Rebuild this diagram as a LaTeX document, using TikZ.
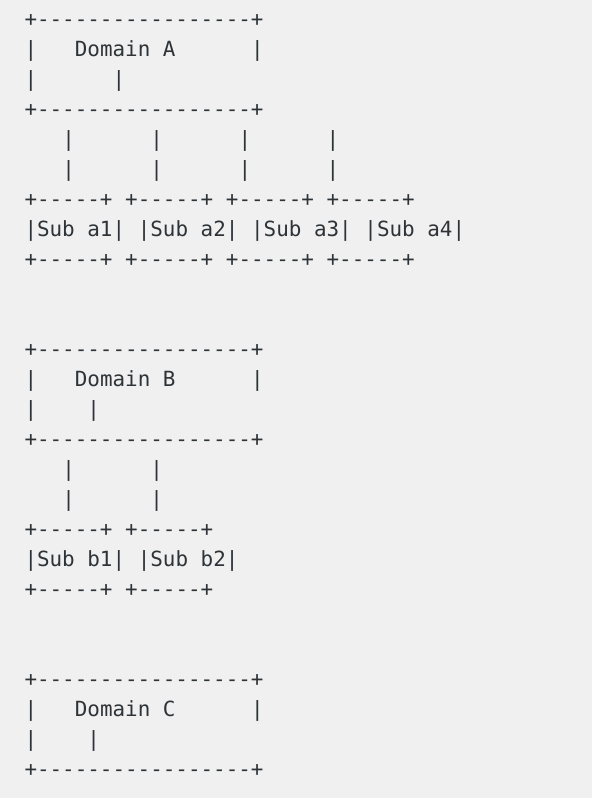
\documentclass[tikz,border=0pt]{standalone}
\usepackage{fontspec}
\setmonofont{DejaVu Sans Mono}
\definecolor{bgc}{HTML}{EFF0EF}
\definecolor{txc}{HTML}{2E3338}
\tikzset{
  asc/.style={anchor=base west, inner sep=0pt, outer sep=0pt, text=txc,
    font=\ttfamily\fontsize{20.9}{30}\selectfont},
}
\begin{document}
\begin{tikzpicture}
\fill[bgc] (0pt,0pt) rectangle (592pt,-798pt);
\useasboundingbox (0pt,0pt) rectangle (592pt,-798pt);
\begin{scope}[shift={(24.5pt,-26pt)}, x=12.59pt, y=-30pt]
% Domain A
\node[asc] (a0) at (0,0) {+-----------------+};
\node[asc] (a1l) at (0,1) {|};
\node[asc] (a1t) at (4,1) {Domain A};
\node[asc] (a1r) at (18,1) {|};
\node[asc] (a2l) at (0,2) {|};
\node[asc] (a2m) at (7,2) {|};
\node[asc] (a3) at (0,3) {+-----------------+};
\foreach \c [count=\i] in {3,10,17,24} {
  \node[asc] (a4p\i) at (\c,4) {|};
  \node[asc] (a5p\i) at (\c,5) {|};
}
\foreach \c [count=\i] in {0,8,16,24} {
  \node[asc] (a6b\i) at (\c,6) {+-----+};
  \node[asc] (a8b\i) at (\c,8) {+-----+};
}
\foreach \c [count=\i] in {0,9,18,27} {
  \node[asc] (a7s\i) at (\c,7) {|Sub a\i|};
}
% Domain B
\node[asc] (b0) at (0,11) {+-----------------+};
\node[asc] (b1l) at (0,12) {|};
\node[asc] (b1t) at (4,12) {Domain B};
\node[asc] (b1r) at (18,12) {|};
\node[asc] (b2l) at (0,13) {|};
\node[asc] (b2m) at (5,13) {|};
\node[asc] (b3) at (0,14) {+-----------------+};
\foreach \c [count=\i] in {3,10} {
  \node[asc] (b4p\i) at (\c,15) {|};
  \node[asc] (b5p\i) at (\c,16) {|};
}
\foreach \c [count=\i] in {0,8} {
  \node[asc] (b6b\i) at (\c,17) {+-----+};
  \node[asc] (b8b\i) at (\c,19) {+-----+};
}
\foreach \c [count=\i] in {0,9} {
  \node[asc] (b7s\i) at (\c,18) {|Sub b\i|};
}
% Domain C
\node[asc] (c0) at (0,22) {+-----------------+};
\node[asc] (c1l) at (0,23) {|};
\node[asc] (c1t) at (4,23) {Domain C};
\node[asc] (c1r) at (18,23) {|};
\node[asc] (c2l) at (0,24) {|};
\node[asc] (c2m) at (5,24) {|};
\node[asc] (c3) at (0,25) {+-----------------+};
\end{scope}
\end{tikzpicture}
\end{document}
